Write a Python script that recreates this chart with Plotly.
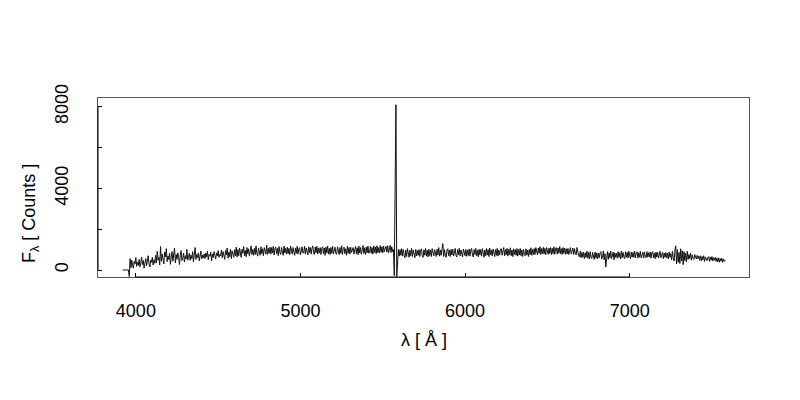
import plotly.graph_objects as go

# Spectrum sampled on a regular 5 Å grid from 3920 Å to 7580 Å
wave_start = 3920
wave_step = 5

flux = [
    0, 0, 0, 0, 0, 0, 0, 0, -320, 560, 110, 480, 250, 90, 420, 300, 610, 180, 390, 230,
    520, 150, 380, 640, 260, 470, 90, 350, 560, 210, 430, 700, 300, 150, 480, 380, 620, 240, 500, 330,
    720, 340, 910, 480, 620, 250, 1150, 430, 780, 560, 300, 880, 640, 1050, 410, 690, 520, 820, 280, 640,
    900, 430, 680, 1080, 350, 760, 520, 840, 610, 270, 720, 950, 460, 580, 830, 390, 700, 540, 1010, 480,
    650, 820, 470, 730, 560, 900, 400, 690, 1100, 520, 760, 610, 840, 450, 680, 930, 540, 720, 600, 790,
    560, 830, 640, 920, 500, 760, 680, 870, 450, 780, 610, 900, 720, 540, 840, 690, 950, 620, 760, 700,
    980, 600, 900, 700, 520, 960, 740, 1080, 580, 880, 660, 1020, 560, 940, 720, 620, 1000, 700, 1120, 640,
    1000, 700, 1080, 760, 620, 1020, 820, 1150, 700, 960, 650, 1100, 800, 1040, 680, 940, 1180, 760, 1000, 720,
    1060, 760, 1180, 820, 680, 1080, 860, 720, 1140, 800, 1040, 700, 1100, 840, 780, 1220, 760, 1060, 820, 1120,
    780, 1100, 840, 1160, 740, 1040, 1120, 800, 1060, 700, 1150, 860, 760, 1100, 880, 720, 1180, 840, 1060, 780,
    1120, 800, 1060, 760, 1180, 860, 780, 1100, 880, 720, 1080, 820, 1160, 780, 1040, 1100, 740, 1060, 1140, 820,
    860, 1160, 780, 1080, 840, 740, 1140, 860, 1100, 780, 1060, 1180, 820, 760, 1120, 840, 1160, 780, 1080, 840,
    1100, 760, 1060, 1140, 800, 1080, 720, 1120, 840, 1180, 780, 1060, 760, 1100, 820, 1160, 780, 1060, 1120, 800,
    780, 1140, 840, 760, 1100, 820, 1190, 760, 1060, 1120, 800, 1040, 720, 1160, 820, 1100, 780, 1120, 860, 1000,
    1100, 780, 1060, 1150, 800, 1090, 750, 1170, 830, 1100, 770, 1060, 1200, 810, 1090, 760, 1130, 840, 1170, 820,
    880, 1160, 820, 1100, 780, 1180, 860, 1130, 800, 1190, 850, 1100, 830, 1200, 870, 1140, 840, 1170, 900, 1060,
    1160, 880, 1190, 840, 1120, 1210, 860, 1140, 900, 1000, -280, 3000, 8100, -320, 700, 1000, 680, 1000, 720, 1050,
    680, 1000, 720, 600, 980, 660, 1050, 710, 620, 970, 700, 1060, 660, 980, 730, 600, 1010, 690, 960, 720,
    1000, 660, 950, 1040, 700, 620, 990, 730, 1060, 680, 970, 640, 1020, 710, 980, 660, 1050, 740, 690, 1000,
    730, 660, 1020, 740, 1100, 680, 980, 720, 1050, 1290, 660, 1000, 730, 620, 970, 1040, 700, 980, 660, 1010,
    740, 1020, 680, 970, 1060, 700, 640, 1000, 750, 1060, 690, 980, 720, 640, 1030, 760, 700, 1010, 670, 980,
    720, 1030, 680, 980, 1060, 720, 640, 1000, 760, 1060, 700, 970, 650, 1020, 740, 1000, 680, 1050, 730, 620,
    980, 700, 1050, 730, 1000, 660, 1070, 740, 980, 690, 1030, 750, 660, 1000, 720, 1060, 680, 980, 740, 1020,
    1050, 720, 980, 1100, 690, 1000, 740, 1060, 680, 1010, 750, 1090, 700, 980, 660, 1040, 760, 1000, 720, 1050,
    680, 1000, 740, 1060, 700, 980, 660, 1020, 750, 700, 1040, 730, 980, 660, 1010, 750, 1090, 720, 1000, 760,
    1050, 760, 1100, 800, 740, 1080, 820, 1140, 760, 1050, 800, 1110, 780, 1060, 750, 1100, 820, 770, 1080, 810,
    1100, 760, 1060, 800, 1140, 770, 1040, 1100, 780, 1080, 820, 1150, 800, 1050, 760, 1100, 820, 1080, 770, 1040,
    780, 1060, 760, 1040, 1100, 780, 1020, 1080, 760, 1040, 820, 740, 1100, 800, 700, 640, 920, 600, 860, 620,
    880, 560, 840, 620, 920, 580, 860, 540, 900, 620, 560, 860, 640, 520, 880, 580, 840, 540, 820, 600,
    840, 900, 540, 620, 940, 500, 800, 150, 560, 900, 520, 840, 600, 920, 560, 800, 880, 500, 840, 620,
    820, 580, 900, 620, 840, 540, 930, 600, 860, 640, 560, 900, 630, 860, 590, 920, 640, 560, 880, 630,
    860, 620, 920, 590, 840, 890, 580, 850, 630, 910, 600, 840, 870, 580, 890, 640, 600, 900, 630, 850,
    630, 880, 580, 840, 900, 600, 820, 560, 880, 630, 860, 590, 840, 920, 600, 820, 860, 560, 830, 620,
    860, 600, 820, 540, 880, 620, 800, 500, 920, 580, 440, 980, 1180, 300, 1000, 380, 860, 320, 1040, 440,
    940, 260, 900, 460, 820, 400, 920, 520, 760, 560, 820, 480, 740, 580, 520, 760, 600, 540, 720, 560,
    680, 480, 700, 440, 660, 500, 700, 420, 640, 580, 460, 620, 660, 420, 640, 480, 660, 440, 600, 480,
    620, 420, 580, 400, 600, 380, 560, 430, 580, 380, 540, 420, 480,
]
wave = [wave_start + wave_step * i for i in range(len(flux))]

x_ticks = [4000, 5000, 6000, 7000]
y_ticks = [0, 2000, 4000, 6000, 8000]
y_ticktext = ["0", "", "4000", "", "8000"]

FONT = "Liberation Sans, Arial, sans-serif"

fig = go.Figure()
fig.add_trace(go.Scatter(x=wave, y=flux, mode="lines",
                         line=dict(color="#111111", width=1),
                         showlegend=False, hoverinfo="skip"))

# page body adds an 8px offset; margins compensate so the box sits at 98..749 x 98..277
fig.update_layout(
    width=800, height=400,
    paper_bgcolor="white", plot_bgcolor="white",
    margin=dict(l=90, r=59, t=90, b=131),
    font=dict(family=FONT, size=18, color="black"),
)
fig.update_xaxes(
    range=[3770, 7725], tickvals=x_ticks, automargin=False,
    ticks="inside", ticklen=4, tickcolor="black", tickwidth=1,
    showline=True, linecolor="#555555", linewidth=1, mirror=True,
    showgrid=False, zeroline=False,
    tickfont=dict(size=18, family=FONT, color="black"),
    ticklabelstandoff=17,
)
fig.update_yaxes(
    range=[-343, 8431], tickvals=y_ticks, ticktext=y_ticktext, automargin=False,
    tickangle=-90,
    ticks="inside", ticklen=4, tickcolor="black", tickwidth=1,
    showline=True, linecolor="#555555", linewidth=1, mirror=True,
    showgrid=False, zeroline=False,
    tickfont=dict(size=18, family=FONT, color="black"),
    ticklabelstandoff=22,
)

# R-style axis lines spanning first to last tick
fig.add_shape(type="line", xref="x", yref="paper",
              x0=x_ticks[0], x1=x_ticks[-1], y0=0, y1=0,
              line=dict(color="black", width=1))
fig.add_shape(type="line", xref="paper", yref="y",
              x0=0, x1=0, y0=y_ticks[0], y1=y_ticks[-1],
              line=dict(color="black", width=1))

fig.add_annotation(text="λ [ Å ]", xref="paper", yref="paper",
                   x=0.5, y=-0.352, xanchor="center", yanchor="middle",
                   showarrow=False, font=dict(size=18, family=FONT, color="black"))
fig.add_annotation(text="F<sub>λ</sub> [ Counts ]", xref="paper", yref="paper",
                   x=-0.1045, y=0.3575, xanchor="center", yanchor="middle",
                   textangle=-90, showarrow=False,
                   font=dict(size=18, family=FONT, color="black"))

fig.write_html("out.html")
